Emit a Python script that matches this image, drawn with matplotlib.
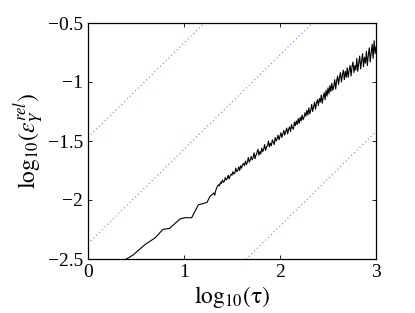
"""
Relative error of Y versus time step, log-log, with reference slopes.
"""
import numpy as np
import matplotlib
matplotlib.use('Agg')
import matplotlib.pyplot as plt

# smooth part of the error curve (small tau)
smooth_x = [0.40, 0.47, 0.59, 0.70, 0.78, 0.85, 0.96, 1.01, 1.08, 1.15,
            1.20, 1.24, 1.27]
smooth_y = [-2.50, -2.466, -2.38, -2.32, -2.25, -2.24, -2.16, -2.15, -2.15,
            -2.04, -2.03, -2.02, -1.97]

# noisy part, sampled every 0.01 in log10(tau) from 1.30 to 3.00
noisy_y = [
    -1.95, -1.94, -1.96, -1.92, -1.90, -1.88, -1.87, -1.88, -1.85, -1.86,
    -1.83, -1.85, -1.84, -1.81, -1.83, -1.82, -1.79, -1.82, -1.80, -1.78,
    -1.79, -1.76, -1.78, -1.77, -1.73, -1.76, -1.75, -1.72, -1.75, -1.71,
    -1.73, -1.70, -1.69, -1.71, -1.67, -1.70, -1.68, -1.64, -1.68, -1.66,
    -1.63, -1.66, -1.64, -1.60, -1.65, -1.62, -1.60, -1.57, -1.62, -1.59,
    -1.61, -1.56, -1.59, -1.57, -1.53, -1.58, -1.55, -1.54, -1.50, -1.55,
    -1.52, -1.54, -1.49, -1.51, -1.53, -1.47, -1.50, -1.48, -1.45, -1.49,
    -1.46, -1.43, -1.47, -1.44, -1.41, -1.45, -1.42, -1.39, -1.44, -1.40,
    -1.38, -1.42, -1.36, -1.39, -1.40, -1.34, -1.37, -1.33, -1.36, -1.31,
    -1.35, -1.30, -1.33, -1.28, -1.32, -1.30, -1.26, -1.29, -1.24, -1.28,
    -1.22, -1.27, -1.24, -1.19, -1.25, -1.21, -1.17, -1.23, -1.18, -1.15,
    -1.20, -1.14, -1.17, -1.11, -1.18, -1.13, -1.09, -1.15, -1.07, -1.12,
    -1.05, -1.10, -1.03, -1.08, -1.01, -1.07, -1.04, -0.98, -1.06, -0.99,
    -0.95, -1.02, -0.96, -0.92, -1.00, -0.94, -0.90, -0.98, -0.91, -0.96,
    -0.88, -0.96, -0.90, -0.86, -0.95, -0.87, -0.83, -0.92, -0.86, -0.90,
    -0.80, -0.91, -0.84, -0.78, -0.89, -0.82, -0.76, -0.87, -0.79, -0.84,
    -0.74, -0.86, -0.77, -0.71, -0.83, -0.75, -0.68, -0.80, -0.65, -0.76,
    -0.70,
]
noisy_x = np.round(np.arange(len(noisy_y)) * 0.01 + 1.30, 2)

# reference lines of slope 0.8
ref_slope = 0.8
ref_intercepts = [-1.47, -2.37, -3.82]

xticks = [0, 1, 2, 3]
yticks = [-2.5, -2, -1.5, -1, -0.5]
ytick_labels = ['\u22122.5', '\u22122', '\u22121.5', '\u22121', '\u22120.5']


def main():
    plt.rcParams['font.family'] = ['Liberation Serif', 'DejaVu Serif']
    plt.rcParams['mathtext.fontset'] = 'stix'

    fig = plt.figure(figsize=(4.15, 3.13), dpi=100)
    ax = fig.add_axes([88 / 415, 1 - 259 / 313, 288 / 415, 236 / 313])

    xs = np.array([0.0, 3.0])
    for b in ref_intercepts:
        ax.plot(xs, b + ref_slope * xs, linestyle=(0, (1, 2.5)),
                color='#7a7aff', linewidth=0.8)

    curve_x = list(smooth_x) + list(noisy_x)
    curve_y = list(smooth_y) + list(noisy_y)
    ax.plot(curve_x, curve_y, color='black', linewidth=0.8)

    ax.set_xlim(0, 3)
    ax.set_ylim(-2.5, -0.5)
    ax.set_xticks(xticks)
    ax.set_xticklabels([str(t) for t in xticks])
    ax.set_yticks(yticks)
    ax.set_yticklabels(ytick_labels)
    ax.tick_params(direction='in', top=True, right=True, labelsize=14,
                   length=3, width=0.6)
    for s in ax.spines.values():
        s.set_linewidth(0.9)

    ax.set_xlabel(r'$\mathrm{log}_{10}(\mathrm{\tau})$', fontsize=17, labelpad=2)
    ax.set_ylabel(r'$\mathrm{log}_{10}(\varepsilon_Y^{rel})$', fontsize=17,
                  labelpad=2)

    fig.savefig('out.png', dpi=100)


if __name__ == '__main__':
    main()
